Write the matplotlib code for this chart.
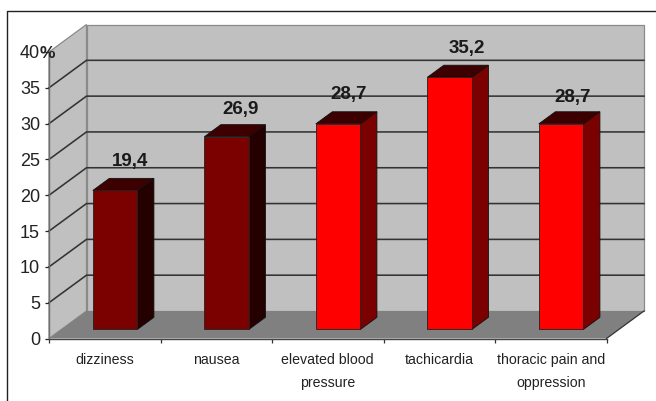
import matplotlib
matplotlib.use('Agg')
import matplotlib.pyplot as plt
from matplotlib.patches import Polygon
from matplotlib.lines import Line2D

categories = ['dizziness', 'nausea', 'elevated blood\npressure', 'tachicardia',
              'thoracic pain and\noppression']
values = [19.4, 26.9, 28.7, 35.2, 28.7]
value_labels = ['19,4', '26,9', '28,7', '35,2', '28,7']
y_ticks = [0, 5, 10, 15, 20, 25, 30, 35, 40]

# per-label nudges for the value labels, in pixels
label_dx = [6.5, 5.5, 2.5, 9, 3]
label_dy = [16.5, 15.5, 17.5, 16.5, 14]

W, H = 656, 401
AX_L, AX_R, AX_B, AX_T = 49, 606.5, 338.5, 52

# depth of the 3d box in data units
DX = 37.5 / ((AX_R - AX_L) / 5)
DY = 27.5 / ((AX_B - AX_T) / 40)
BAR_D0, BAR_D1 = 0.33, 0.77
BAR_W = 0.4
BAR_CENTER = 0.482

front_colors = ['#7b0000', '#7b0000', '#ff0000', '#ff0000', '#ff0000']
side_colors = ['#240000', '#240000', '#7b0000', '#7b0000', '#7b0000']
top_colors = ['#3d0000'] * 5
WALL = '#c0c0c0'
FLOOR = '#808080'
TEXT = '#222222'

plt.rcParams['font.family'] = ['Liberation Sans', 'DejaVu Sans']

fig = plt.figure(figsize=(W / 100, H / 100), dpi=100, facecolor='white')
ax = fig.add_axes([AX_L / W, 1 - AX_B / H, (AX_R - AX_L) / W, (AX_B - AX_T) / H])
ax.patch.set_visible(False)
ax.set_xlim(0, 5)
ax.set_ylim(0, 40)


def depth(x, y, d):
    return (x + d * DX, y + d * DY)


def poly(points, color, edge='none', lw=0.6, z=1):
    ax.add_patch(Polygon(points, closed=True, facecolor=color, edgecolor=edge,
                         linewidth=lw, zorder=z, clip_on=False))


# walls and floor
poly([depth(0, 0, 0), depth(0, 0, 1), depth(0, 40, 1), depth(0, 40, 0)], WALL, '#8a8a8a', 0.9)
poly([depth(0, 0, 1), depth(5, 0, 1), depth(5, 40, 1), depth(0, 40, 1)], WALL, '#8a8a8a', 0.9)
poly([depth(0, 0, 0), depth(5, 0, 0), depth(5, 0, 1), depth(0, 0, 1)], FLOOR, z=1.5)
ax.plot([5, 5 + DX], [0, DY], color='#333333', lw=0.9, clip_on=False, zorder=1.6)

# gridlines run along the left wall, then across the back wall
for t in y_ticks[1:-1]:
    p0, p1, p2 = depth(0, t, 0), depth(0, t, 1), depth(5, t, 1)
    ax.plot([p0[0], p1[0], p2[0]], [p0[1], p1[1], p2[1]], color='#333333', lw=1.15,
            clip_on=False, zorder=2, solid_joinstyle='miter')

# bars
for i, v in enumerate(values):
    x0 = i + BAR_CENTER - BAR_W / 2
    x1 = i + BAR_CENTER + BAR_W / 2
    poly([depth(x1, 0, BAR_D0), depth(x1, 0, BAR_D1), depth(x1, v, BAR_D1), depth(x1, v, BAR_D0)],
         side_colors[i], '#111111', z=3)
    poly([depth(x0, v, BAR_D0), depth(x1, v, BAR_D0), depth(x1, v, BAR_D1), depth(x0, v, BAR_D1)],
         top_colors[i], '#111111', z=3)
    poly([depth(x0, 0, BAR_D0), depth(x1, 0, BAR_D0), depth(x1, v, BAR_D0), depth(x0, v, BAR_D0)],
         front_colors[i], '#222222', z=3.1)
    # label sits above the middle of the bar's top face
    top_x = depth(i + BAR_CENTER, v, (BAR_D0 + BAR_D1) / 2)[0]
    top_y = depth(i + BAR_CENTER, v, BAR_D1)[1]
    ax.annotate(value_labels[i], xy=(top_x, top_y),
                xytext=(label_dx[i] * 0.72, label_dy[i] * 0.72), textcoords='offset points',
                ha='center', va='center', fontsize=13.5, fontweight='bold', color='#1a1a1a',
                annotation_clip=False, zorder=5)

# axes
for side in ['top', 'right']:
    ax.spines[side].set_visible(False)
ax.spines['left'].set_color('#6e6e6e')
ax.spines['left'].set_linewidth(1.0)
ax.spines['bottom'].set_color('#444444')
ax.spines['bottom'].set_linewidth(1.0)
ax.spines['left'].set_zorder(2.5)
ax.spines['bottom'].set_zorder(2.5)

ax.set_yticks(y_ticks)
ax.tick_params(axis='y', length=3, width=0.9, color='#222222', pad=3.5, labelsize=13, labelcolor=TEXT)

ax.set_xticks(range(6))
ax.set_xticklabels([])
ax.tick_params(axis='x', which='major', length=3, width=0.9, color='#333333')
ax.set_xticks([i + 0.5 for i in range(5)], minor=True)
ax.set_xticklabels(categories, minor=True, fontsize=10.2, color=TEXT, linespacing=1.85)
ax.tick_params(axis='x', which='minor', length=0, pad=10.5)

ax.annotate('%', xy=(0, 40), xytext=(-1.5, -1), textcoords='offset points', ha='center',
            va='center', fontsize=12.5, fontweight='bold', color=TEXT, annotation_clip=False,
            zorder=5)

# frame around the chart area: only the top and left edges are inside the image
fig.add_artist(Line2D([6.5 / W, 6.5 / W, 1], [0, 1 - 10.5 / H, 1 - 10.5 / H], color='#222222', lw=1.0))

fig.savefig('out.png', dpi=100)
